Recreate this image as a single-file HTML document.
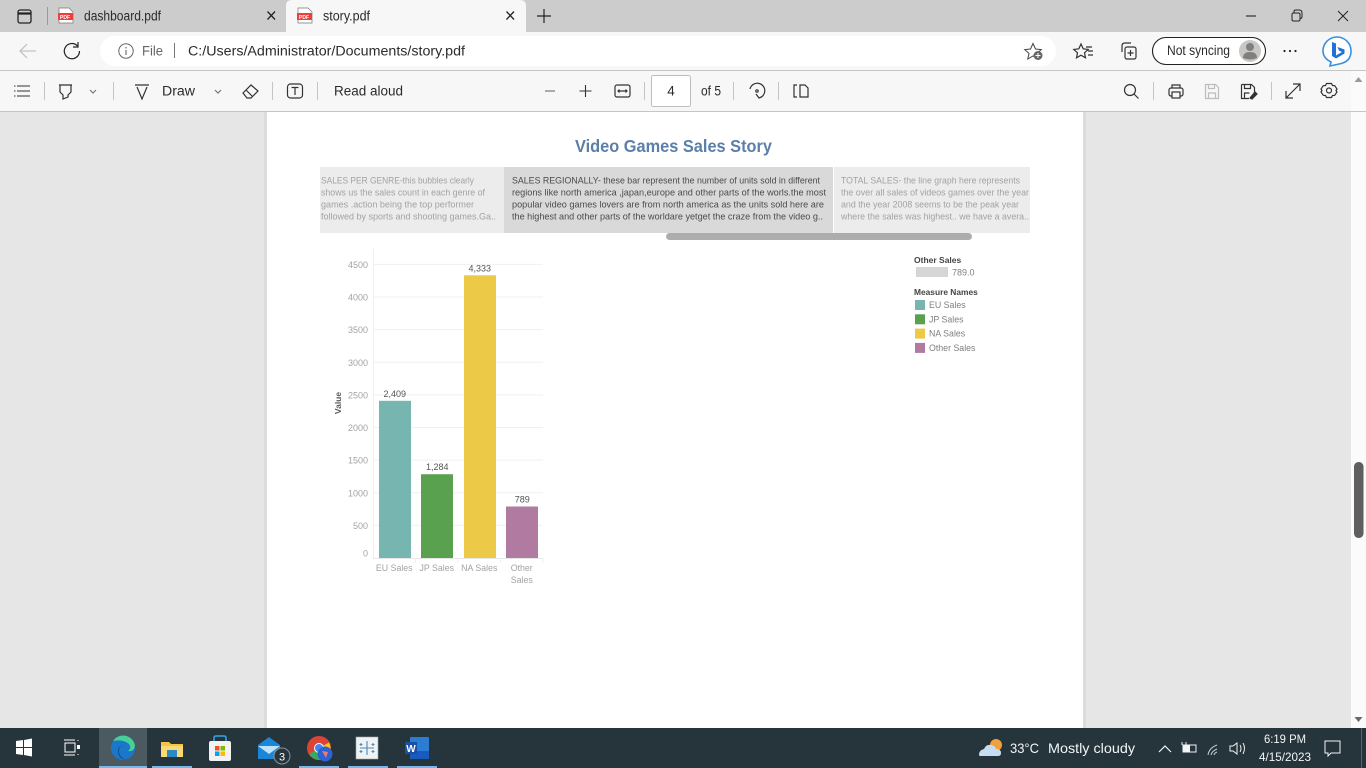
<!DOCTYPE html>
<html lang="en">
<head>
<meta charset="utf-8">
<title>story.pdf</title>
<style>
html,body{margin:0;padding:0;width:1366px;height:768px;overflow:hidden;background:#e6e6e6}
svg{display:block;position:absolute;left:0;top:0}
text{font-family:"Liberation Sans",sans-serif}
.ui{font-size:13.5px;fill:#2b2b2b}
.ic{fill:none;stroke:#333;stroke-width:1.2}
.sp{font-size:9.5px;fill:#a2a2a2}
.spa{font-size:9.5px;fill:#4a4a4a}
.tb{fill:#f2f5f7;font-size:14px}
</style>
</head>
<body>
<svg width="1366" height="768" viewBox="0 0 1366 768">
  <!-- viewer background and page -->
  <rect x="0" y="112" width="1366" height="616" fill="#e6e6e6"/>
  <rect x="264" y="112" width="3" height="616" fill="#dcdcdc"/>
  <rect x="267" y="112" width="816" height="616" fill="#ffffff"/>
  <rect x="1083" y="112" width="3" height="616" fill="#dcdcdc"/>

  <!-- viewer scrollbar -->
  <rect x="1351" y="71" width="15" height="657" fill="#fbfbfb"/>
  <rect x="1354" y="462" width="9.5" height="76" rx="4.5" fill="#5f5f5f"/>
  <path d="M1358.5 77l4 5h-8z" fill="#9a9a9a"/>
  <path d="M1358.5 722l4-5h-8z" fill="#6a6a6a"/>

  <!-- tab strip -->
  <g>
    <rect x="0" y="0" width="1366" height="32" fill="#cccccc"/>
    <g>
      <rect x="18" y="10" width="13" height="13" rx="2" fill="none" stroke="#222" stroke-width="1.3"/>
      <path d="M18 13.5h13" stroke="#222" stroke-width="2.2"/>
    </g>
    <path d="M47.5 7v18" stroke="#999"/>
    <g>
      <path d="M59 8h10l4 4v11H59z" fill="#fff" stroke="#777" stroke-width=".7"/>
      <rect x="58" y="13" width="15" height="7" fill="#ef3e3e"/>
      <text x="60" y="19" font-size="5" font-weight="700" fill="#fff">PDF</text>
      <text class="ui" x="84" y="20.5" textLength="77" lengthAdjust="spacingAndGlyphs">dashboard.pdf</text>
      <path d="M267.5 11.5l7.5 8M275 11.5l-7.5 8" stroke="#222" stroke-width="1.3" fill="none"/>
    </g>
    <g>
      <path d="M286 32V6q0-6 6-6h228q6 0 6 6v26z" fill="#f7f7f7"/>
      <path d="M298 8h10l4 4v11h-14z" fill="#fff" stroke="#777" stroke-width=".7"/>
      <rect x="297" y="13" width="15" height="7" fill="#ef3e3e"/>
      <text x="299" y="19" font-size="5" font-weight="700" fill="#fff">PDF</text>
      <text class="ui" x="323" y="20.5" textLength="47" lengthAdjust="spacingAndGlyphs">story.pdf</text>
      <path d="M506.5 11.5l7.5 8M514 11.5l-7.5 8" stroke="#222" stroke-width="1.3" fill="none"/>
    </g>
    <path d="M544 9v14M537 16h14" stroke="#222" stroke-width="1.2"/>
    <path d="M1246 16h10" stroke="#222" stroke-width="1.1"/>
    <g fill="none" stroke="#222" stroke-width="1">
      <rect x="1292" y="13" width="8" height="8" rx="1.5"/><path d="M1294 13v-1.5q0-1.5 1.5-1.5h3.5q3 0 3 3v4q0 1.5-2 1.5"/>
    </g>
    <path d="M1338 11l10 10M1348 11l-10 10" stroke="#222" stroke-width="1"/>
  </g>

  <!-- address row -->
  <g>
    <rect x="0" y="32" width="1366" height="38" fill="#f7f7f7"/>
    <path d="M0 70.5h1366" stroke="#c6c6c6"/>
    <path d="M36 51H20M27 44l-7 7 7 7" fill="none" stroke="#c4c4c4" stroke-width="1.3"/>
    <path d="M77.5 46a7.6 7.6 0 1 0 2 5M78 42v5h-5" fill="none" stroke="#222" stroke-width="1.2"/>
    <rect x="100" y="36" width="956" height="30" rx="15" fill="#ffffff"/>
    <circle cx="126" cy="51" r="7.2" fill="none" stroke="#666" stroke-width="1"/>
    <path d="M126 50v5M126 47v1.5" stroke="#666" stroke-width="1.1"/>
    <text class="ui" x="142" y="55.5" style="fill:#666" textLength="21" lengthAdjust="spacingAndGlyphs">File</text>
    <path d="M174.5 43v15" stroke="#777"/>
    <text class="ui" x="188" y="55.5" textLength="277" lengthAdjust="spacingAndGlyphs">C:/Users/Administrator/Documents/story.pdf</text>
    <g>
      <path d="M1033 43.5l2.5 5.5 5.8.6-4.3 3.8 1.2 5.6-5.2-3-5.2 3 1.2-5.6-4.3-3.8 5.8-.6z" fill="none" stroke="#444" stroke-width="1"/>
      <circle cx="1038" cy="55.5" r="4.5" fill="#666"/><path d="M1038 53v5M1035.5 55.5h5" stroke="#fff"/>
    </g>
    <g class="ic">
      <path d="M1081 44l2.2 4.8 5 .6-3.7 3.4 1 5-4.5-2.6-4.500 2.600 1-5-3.700-3.400 5-.6z"/><path d="M1086 47h6M1088 51h5M1088 55h5"/>
    </g>
    <g class="ic">
      <rect x="1125" y="47" width="11" height="12" rx="2"/><path d="M1122 52v-6q0-3 3-3h6M1130.5 50v6M1127.5 53h6"/>
    </g>
    <g>
      <rect x="1152.5" y="37.5" width="113" height="27" rx="13.5" fill="#fff" stroke="#222" stroke-width="1.1"/>
      <text class="ui" x="1167" y="55" textLength="63" lengthAdjust="spacingAndGlyphs">Not syncing</text>
      <circle cx="1250" cy="51" r="11" fill="#c9c6c3"/>
      <circle cx="1250" cy="47" r="4" fill="#7f7f7f"/><path d="M1243 58q0-6 7-6t7 6q-7 3-14 0z" fill="#7f7f7f"/>
    </g>
    <g fill="#222"><circle cx="1284.5" cy="51" r="1.1"/><circle cx="1290" cy="51" r="1.1"/><circle cx="1295.5" cy="51" r="1.1"/></g>
    <g>
      <path d="M1337 37a14 14 0 0 1 14 14q0 11-12 13l-9 2 1-4q-8-4-8-11a14 14 0 0 1 14-14z" fill="#fff" stroke="#3a8fe0" stroke-width="1.6"/>
      <path d="M1332 42l4 1.5v12l6-3.5-3-1.5-1.5-3.5 7 2.5v4l-8.500 5-4-2.500z" fill="#1d73d8"/>
    </g>
  </g>

  <!-- pdf toolbar -->
  <g>
    <rect x="0" y="71" width="1351" height="40" fill="#f7f7f7"/>
    <path d="M0 111.5h1366" stroke="#c6c6c6"/>
    <g stroke="#c4c4c4"><path d="M44.5 82v18M113.5 82v18M272.5 82v18M317.5 82v18M644.5 82v18M733.5 82v18M778.5 82v18M1153.5 82v18M1271.5 82v18"/></g>
    <path d="M17 86h13M17 91h13M17 96h13M14 86h1.500M14 91h1.500M14 96h1.500" stroke="#333" stroke-width="1.1"/>
    <path class="ic" d="M59 85h13M60 85v7l3 3v4l5-2v-2l3-3v-7"/>
    <path class="ic" d="M90 90l3 3 3-3" style="stroke:#777"/>
    <path class="ic" d="M135 85h14M137 87l5 12 5-12"/>
    <text class="ui" x="162" y="95.5" textLength="33" lengthAdjust="spacingAndGlyphs">Draw</text>
    <path class="ic" d="M215 90l3 3 3-3" style="stroke:#777"/>
    <path class="ic" d="M243 93l8-8 7 6-7 7h-4zM246 90l6 6"/>
    <g class="ic"><rect x="287.5" y="84" width="15" height="14" rx="3"/><path d="M291.5 87.5h7M295 87.5v7.500"/></g>
    <text class="ui" x="334" y="95.5" textLength="69" lengthAdjust="spacingAndGlyphs">Read aloud</text>
    <path d="M545 91h10" stroke="#777" stroke-width="1.2"/>
    <path d="M585.5 85v12M579.5 91h12" stroke="#333" stroke-width="1.1"/>
    <g class="ic"><rect x="615" y="85" width="15" height="12" rx="2"/><path d="M618 91h9M619.5 89.500l-1.500 1.500 1.500 1.500M625.500 89.500l1.500 1.500-1.500 1.500"/></g>
    <rect x="651.5" y="75.5" width="39" height="31" rx="2" fill="#fff" stroke="#bdbdbd"/>
    <text class="ui" x="671" y="95.5" text-anchor="middle">4</text>
    <text class="ui" x="701" y="95.5" textLength="20" lengthAdjust="spacingAndGlyphs">of 5</text>
    <g class="ic"><path d="M750 89a7.500 7.500 0 1 1 9 9M756 94l3 4 4-2"/><circle cx="757" cy="91" r="1.2"/></g>
    <g class="ic"><path d="M797 85h-3v12h3M800 85h5l3 3v9h-8z"/></g>
    <g class="ic"><circle cx="1130" cy="90" r="5.5"/><path d="M1134 94l4.500 4.500"/></g>
    <g class="ic"><rect x="1169" y="88" width="14" height="8" rx="2"/><path d="M1172 88v-3h8v3"/><rect x="1172" y="92" width="8" height="6" fill="#f7f7f7"/></g>
    <g class="ic" style="stroke:#bdbdbd"><path d="M1205.5 84.5h10l3 3v11h-13zM1208.5 84.5v4h6v-4M1208.5 98v-5h7v5"/></g>
    <g class="ic"><path d="M1241.5 84.5h10l3 3v5M1249 98.5h-7.500v-14M1244.5 84.5v4h6v-4M1244.5 98v-5h5"/><path d="M1250 98l5-6 2 2-5 5z" fill="#333"/></g>
    <path class="ic" d="M1286 98l14-14M1293 84h7v7M1286 91v7h7"/>
    <g class="ic"><circle cx="1329" cy="90.5" r="2.5"/><path d="M1326.5 83.5h5l1 2 2.200.2 2.300 3.300-1 1.500 1 1.500-2.300 3.300-2.200.2-1 2h-5l-1-2-2.200-.2-2.300-3.300 1-1.500-1-1.500 2.300-3.300 2.200-.2z"/></g>
  </g>

  <!-- story header -->
  <text x="575" y="152" font-size="17.5" font-weight="700" fill="#5b7fa8" textLength="197" lengthAdjust="spacingAndGlyphs">Video Games Sales Story</text>

  <g>
    <rect x="320" y="167" width="184" height="66" fill="#ececec"/>
    <text class="sp" x="321" y="183.5" textLength="153" lengthAdjust="spacingAndGlyphs">SALES PER GENRE-this bubbles clearly</text>
    <text class="sp" x="321" y="195.5" textLength="164" lengthAdjust="spacingAndGlyphs">shows us the sales count in each genre of</text>
    <text class="sp" x="321" y="207.5" textLength="153" lengthAdjust="spacingAndGlyphs">games .action being the top performer</text>
    <text class="sp" x="321" y="219.5" textLength="175" lengthAdjust="spacingAndGlyphs">followed by sports and shooting games.Ga..</text>
  </g>
  <g>
    <rect x="504" y="167" width="329" height="66" fill="#d9d9d9"/>
    <text class="spa" x="512" y="183.5" textLength="308" lengthAdjust="spacingAndGlyphs">SALES REGIONALLY- these bar represent the number of units sold in different</text>
    <text class="spa" x="512" y="195.5" textLength="314" lengthAdjust="spacingAndGlyphs">regions like north america ,japan,europe and other parts of the worls.the most</text>
    <text class="spa" x="512" y="207.5" textLength="312" lengthAdjust="spacingAndGlyphs">popular video games lovers are from north america as the units sold here are</text>
    <text class="spa" x="512" y="219.5" textLength="311" lengthAdjust="spacingAndGlyphs">the highest and other parts of the worldare yetget the craze from the video g..</text>
  </g>
  <g>
    <rect x="834" y="167" width="196" height="66" fill="#ececec"/>
    <text class="sp" x="841" y="183.5" textLength="179" lengthAdjust="spacingAndGlyphs">TOTAL SALES- the line graph here represents</text>
    <text class="sp" x="841" y="195.5" textLength="188" lengthAdjust="spacingAndGlyphs">the over all sales of videos games over the year</text>
    <text class="sp" x="841" y="207.5" textLength="178" lengthAdjust="spacingAndGlyphs">and the year 2008 seems to be the peak year</text>
    <text class="sp" x="841" y="219.5" textLength="188" lengthAdjust="spacingAndGlyphs">where the sales was highest.. we have a avera..</text>
  </g>
  <rect x="666" y="233" width="306" height="7" rx="3.5" fill="#adadad"/>

  <!-- chart -->
  <g id="chart"></g>
  <g id="legend"></g>

  <!-- taskbar -->
  <g>
    <rect x="0" y="728" width="1366" height="40" fill="#26343c"/>
    <rect x="99" y="728" width="48" height="40" fill="#4b5960"/>
    <g fill="#75b9ec">
      <rect x="99" y="766" width="48" height="2"/><rect x="152" y="766" width="40" height="2"/><rect x="299" y="766" width="40" height="2"/><rect x="348" y="766" width="40" height="2"/><rect x="397" y="766" width="40" height="2"/>
    </g>
    <path d="M16 741l7-1v7h-7zM24 740l8-1.5V747h-8zM16 748h7v7l-7-1zM24 748h8v8.5l-8-1.5z" fill="#fff"/>
    <g fill="none" stroke="#fff"><rect x="65" y="743" width="10" height="9"/><path d="M64 740h11M64 755h11M78 740v1M78 754v1"/><rect x="77" y="745" width="3" height="4" fill="#fff" stroke="none"/></g>
    <g>
      <circle cx="123" cy="748" r="12" fill="#1b78c8"/>
      <path d="M113 741a12 12 0 0 1 22 5q-1 6-7 5 4-3 1-7-6-5-16-3z" fill="#46d09a"/>
      <path d="M119 752a6 6 0 0 1 6-7q-7 1-7 6 0 8 9 9-7-2-8-8z" fill="#0d4f96"/>
    </g>
    <g>
      <path d="M161 742h8l2 2h12v13h-22z" fill="#f5c644"/><rect x="161" y="746" width="22" height="11" fill="#fbd975"/><rect x="167" y="750" width="10" height="7" fill="#2b8ac6"/>
    </g>
    <g>
      <path d="M214 741v-3q0-2 2-2h8q2 0 2 2v3" fill="none" stroke="#37a6df" stroke-width="1.5"/>
      <rect x="209" y="741" width="22" height="20" rx="2" fill="#f2f2f2"/>
      <rect x="215" y="746" width="4.5" height="4.5" fill="#e8532d"/><rect x="220.5" y="746" width="4.5" height="4.5" fill="#7fba00"/><rect x="215" y="751.5" width="4.5" height="4.5" fill="#00a4ef"/><rect x="220.5" y="751.5" width="4.5" height="4.5" fill="#ffb900"/>
    </g>
    <g>
      <path d="M258 745l11-8 11 8v14h-22z" fill="#1a86d8"/><path d="M258 746l11 8 11-8" fill="#bfe3f8"/>
      <circle cx="282" cy="756" r="8" fill="#26343c" stroke="#8a9499"/><text x="282" y="760.5" text-anchor="middle" font-size="11" fill="#fff">3</text>
    </g>
    <g>
      <circle cx="319" cy="748" r="12" fill="#db4437"/><path d="M319 748l-10 6a12 12 0 0 0 14 5.500z" fill="#3fa757"/><path d="M319 748l10-5.500a12 12 0 0 1-6 17z" fill="#f5c518"/><circle cx="319" cy="748" r="5" fill="#fff"/><circle cx="319" cy="748" r="4" fill="#4285f4"/>
      <circle cx="325" cy="754" r="7.5" fill="#2c62d6"/><path d="M322 751l6 1-2 6z" fill="#ee7a6d"/>
    </g>
    <g>
      <rect x="356" y="737" width="22" height="22" fill="#f0f3f5" stroke="#9aa5ab" stroke-width=".6"/>
      <path d="M367 741v14M360 748h14M361 743v3M359.5 744.500h3M373 743v3M371.5 744.500h3M361 750v3M359.5 751.500h3M373 750v3M371.5 751.500h3" stroke="#4a8cb5" stroke-width="1.1"/>
    </g>
    <g>
      <rect x="410" y="737" width="19" height="22" rx="1" fill="#2b7cd3"/><rect x="410" y="751" width="19" height="8" fill="#185abd"/>
      <rect x="405" y="742" width="12" height="12" fill="#1a4fa8"/><text x="411" y="752" text-anchor="middle" font-size="10" font-weight="700" fill="#fff">W</text>
    </g>
    <g>
      <circle cx="996" cy="745" r="6" fill="#f0a13a"/>
      <path d="M979 755q0-5 5-6 2-5 7-4 5 1 5 4 5 0 5 4 0 3-3 3h-17q-2 0-2-1z" fill="#c5ddf3"/>
      <text class="tb" x="1010" y="753" textLength="29" lengthAdjust="spacingAndGlyphs">33°C</text>
      <text class="tb" x="1048" y="753" textLength="87" lengthAdjust="spacingAndGlyphs">Mostly cloudy</text>
    </g>
    <path d="M1159 752l6-6 6 6" fill="none" stroke="#f2f5f7" stroke-width="1.2"/>
    <g><rect x="1183" y="745" width="13" height="7" fill="none" stroke="#f2f5f7"/><rect x="1183" y="745" width="7" height="7" fill="#f2f5f7"/><path d="M1182 742v3M1186 742v3" stroke="#f2f5f7"/></g>
    <path d="M1208 755q1-7 9-10M1211 755q1-4 6-6M1214 755q.5-2 3-3" fill="none" stroke="#c8cfd3"/>
    <path d="M1230 746h3l4-3v11l-4-3h-3zM1240 745q2 3.500 0 7M1243 743q3 5 0 11" fill="none" stroke="#f2f5f7"/>
    <text x="1285" y="743" text-anchor="middle" font-size="12" fill="#f2f5f7" textLength="42" lengthAdjust="spacingAndGlyphs">6:19 PM</text>
    <text x="1285" y="761" text-anchor="middle" font-size="12" fill="#f2f5f7" textLength="52" lengthAdjust="spacingAndGlyphs">4/15/2023</text>
    <path d="M1325 741h15v12h-9l-3 3v-3h-3z" fill="none" stroke="#f2f5f7"/>
    <path d="M1361.5 728v40" stroke="#5a666c"/>
  </g>
</svg>

<script>
const categories = ["EU Sales", "JP Sales", "NA Sales", "Other Sales"];
const salesValues = [2409, 1284, 4333, 789];
const yTickValues = [0, 500, 1000, 1500, 2000, 2500, 3000, 3500, 4000, 4500];
const sizeLegendValue = 789.0;

const SVG_NS = "http://www.w3.org/2000/svg";
const chart = document.getElementById("chart");
const legend = document.getElementById("legend");

function yScale(v) { return 558 - v * 0.06525; }
function bandLeft(i) { return 373 + i * (170 / categories.length); }
function bandCenter(i) { return bandLeft(i) + 85 / categories.length; }
function barColor(i) { return ["#76b5b0", "#59a14f", "#edc948", "#b07aa1"][i % 4]; }
function make(tag, parent, attrs, content) {
  const el = document.createElementNS(SVG_NS, tag);
  for (const k in attrs) el.setAttribute(k, attrs[k]);
  if (content !== undefined) el.textContent = content;
  parent.appendChild(el);
  return el;
}
function wrapLabel(label) {
  return label.length > 8 ? label.split(" ") : [label];
}

// gridlines and y-axis tick labels
yTickValues.forEach(function (v) {
  const y = yScale(v);
  if (v > 0) {
    const grid = make("line", chart, { x1: 373, x2: 543, y1: y, y2: y, stroke: "#f0f0f0", "stroke-width": 1 });
    
    
  }
  const tick = make("text", chart, { x: 368, y: Math.min(y, 553) + 3.5, "text-anchor": "end", "font-size": 9, fill: "#a3a3a3" }, String(v));
  
  
});

// axis lines
const yAxis = make("line", chart, { x1: 373.5, x2: 373.5, y1: 249, y2: 558, stroke: "#efefef", "stroke-width": 1 });


const xAxis = make("line", chart, { x1: 373, x2: 543.5, y1: 558.5, y2: 558.5, stroke: "#e6e6e6", "stroke-width": 1 });



const yTitle = make("text", chart, { x: 341, y: 403, "text-anchor": "middle", "font-size": 8.5, "font-weight": 700, fill: "#5a5a5a", transform: "rotate(-90 341 403)" }, "Value");



// bars, value labels, category labels
categories.forEach(function (name, i) {
  const value = salesValues[i];
  const top = yScale(value);
  const bar = make("rect", chart, { x: Math.floor(bandCenter(i) - 15.25), y: top, width: 32, height: 558 - top, fill: barColor(i) });
  
  
  const label = make("text", chart, { x: bandCenter(i) + 0.5, y: top - 4, "text-anchor": "middle", "font-size": 9, fill: "#555" }, value.toLocaleString("en-US"));
  
  
  wrapLabel(name).forEach(function (line, n) {
    const cat = make("text", chart, { x: bandCenter(i), y: 571 + n * 12, "text-anchor": "middle", "font-size": 8.8, fill: "#a3a3a3" }, line);
    
    
  });
  const xTick = make("line", chart, { x1: bandLeft(i + 1), x2: bandLeft(i + 1), y1: 558, y2: 563, stroke: "#efefef" });
  
  
});

// size legend
const sizeTitle = make("text", legend, { x: 914, y: 263, "font-size": 8.5, "font-weight": 700, fill: "#444" }, "Other Sales");


const sizeSwatch = make("rect", legend, { x: 916, y: 267, width: 32, height: 10, fill: "#d6d6d6" });


const sizeText = make("text", legend, { x: 952, y: 275.5, "font-size": 9, fill: "#7f7f7f" }, sizeLegendValue.toFixed(1));



// colour legend
const colorTitle = make("text", legend, { x: 914, y: 295, "font-size": 8.4, "font-weight": 700, fill: "#444" }, "Measure Names");


categories.forEach(function (name, i) {
  const rowY = 305 + i * 14.3;
  const swatch = make("rect", legend, { x: 915, y: rowY - 5, width: 10, height: 10, fill: barColor(i) });
  
  
  const entry = make("text", legend, { x: 929, y: rowY + 3, "font-size": 8.8, fill: "#7f7f7f" }, name);
  
  
});
</script>
</body>
</html>
